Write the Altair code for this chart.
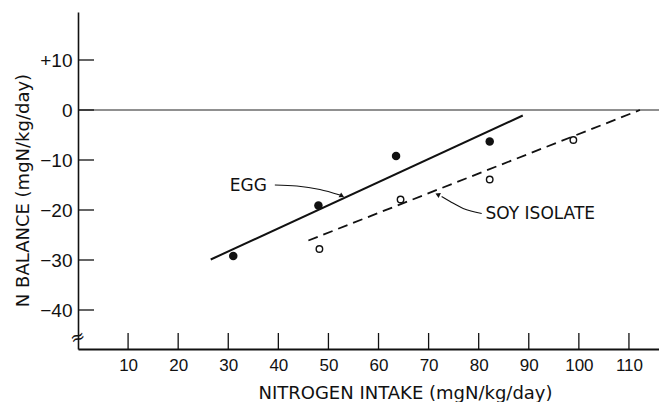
import altair as alt
import pandas as pd

# Nitrogen balance against nitrogen intake (mgN/kg/day)
egg_intake = [31.0, 48.0, 63.5, 82.2]
egg_balance = [-29.2, -19.1, -9.2, -6.3]

soy_intake = [48.2, 64.4, 82.2, 98.9]
soy_balance = [-27.8, -17.9, -13.9, -6.0]

# end points of the fitted lines
egg_fit_x = [26.5, 88.8]
egg_fit_y = [-29.9, -1.1]
soy_fit_x = [46.0, 112.2]
soy_fit_y = [-26.1, 0.0]

x_ticks = [10, 20, 30, 40, 50, 60, 70, 80, 90, 100, 110]
y_ticks = [-40, -30, -20, -10, 0, 10]

# leader curves for the series labels
egg_leader_x = [39.3, 43.7, 48.3, 52.3]
egg_leader_y = [-15.0, -15.2, -15.9, -17.0]
soy_leader_x = [72.6, 74.3, 76.9, 80.6]
soy_leader_y = [-17.3, -18.3, -19.7, -20.7]

arrow_x = [52.7, 71.8]
arrow_y = [-17.2, -16.9]
arrow_angle = [28, 205]

label_text = ["EGG", "SOY ISOLATE"]
label_x = [34.0, 92.3]
label_y = [-15.2, -20.7]

X_DOMAIN = [0, 116]
Y_DOMAIN = [-47.8, 19.6]
INK = "#111111"
W, H = 581, 337

x_axis = alt.Axis(
    values=x_ticks, ticks=False, grid=False, domainColor=INK, domainWidth=2,
    labelFont="Liberation Sans", labelFontSize=17, labelColor=INK,
    labelPadding=8, labelFlush=False,
    title="NITROGEN INTAKE (mgN/kg/day)", titleFont="DejaVu Sans",
    titleFontSize=18, titleFontWeight="normal", titleColor=INK,
    titleX=327, titleY=49, titleAlign="center", titleBaseline="alphabetic",
)
y_axis = alt.Axis(
    values=y_ticks, ticks=False, grid=False, domainColor=INK, domainWidth=1.6,
    labelFont="Liberation Sans", labelFontSize=19, labelColor=INK,
    labelPadding=6, labelFlush=False,
    labelExpr="datum.value > 0 ? '+' + datum.value : (datum.value < 0 ? '\u2212' + abs(datum.value) : '0')",
    title="N BALANCE (mgN/kg/day)", titleFont="DejaVu Sans",
    titleFontSize=18, titleFontWeight="normal", titleColor=INK,
    titleAngle=-90, titleX=-50, titleY=178, titleAlign="center",
    titleBaseline="alphabetic",
)


def xs(field):
    return alt.X(field, type="quantitative",
                 scale=alt.Scale(domain=X_DOMAIN, nice=False, zero=False),
                 axis=x_axis)


def ys(field):
    return alt.Y(field, type="quantitative",
                 scale=alt.Scale(domain=Y_DOMAIN, nice=False, zero=False),
                 axis=y_axis)


egg_df = pd.DataFrame({"x": egg_intake, "y": egg_balance})
soy_df = pd.DataFrame({"x": soy_intake, "y": soy_balance})
egg_fit = pd.DataFrame({"x": egg_fit_x, "y": egg_fit_y})
soy_fit = pd.DataFrame({"x": soy_fit_x, "y": soy_fit_y})
xt_df = pd.DataFrame({"x": x_ticks})
yt_df = pd.DataFrame({"y": y_ticks})
egg_lead = pd.DataFrame({"x": egg_leader_x, "y": egg_leader_y})
soy_lead = pd.DataFrame({"x": soy_leader_x, "y": soy_leader_y})
arrows = pd.DataFrame({"x": arrow_x, "y": arrow_y, "a": arrow_angle})
labels = pd.DataFrame({"x": label_x, "y": label_y, "t": label_text})
zero_df = pd.DataFrame({"x": [0, X_DOMAIN[1]], "y": [0, 0]})
brk_df = pd.DataFrame({"x": [0], "y": [-45.6]})

zero_line = alt.Chart(zero_df).mark_line(color="#222222", strokeWidth=1.2).encode(
    x=xs("x"), y=ys("y"))

x_tick_marks = alt.Chart(xt_df).mark_rule(color=INK, strokeWidth=1.3).encode(
    x=xs("x"), y=alt.value(H), y2=alt.value(H - 16))
y_tick_marks = alt.Chart(yt_df).mark_rule(color=INK, strokeWidth=1.3).encode(
    y=ys("y"), x=alt.value(0), x2=alt.value(16))

axis_break = alt.Chart(brk_df).mark_text(
    text="\u2248", font="DejaVu Sans", fontSize=18, color=INK, angle=340
).encode(x=xs("x"), y=ys("y"))

egg_line = alt.Chart(egg_fit).mark_line(color=INK, strokeWidth=2).encode(
    x=xs("x"), y=ys("y"))
soy_line = alt.Chart(soy_fit).mark_line(
    color=INK, strokeWidth=1.8, strokeDash=[10, 6]).encode(x=xs("x"), y=ys("y"))

egg_pts = alt.Chart(egg_df).mark_point(
    filled=True, color=INK, size=72, opacity=1).encode(x=xs("x"), y=ys("y"))
soy_pts = alt.Chart(soy_df).mark_point(
    filled=True, fill="white", stroke=INK, strokeWidth=1.4, size=42, opacity=1
).encode(x=xs("x"), y=ys("y"))

egg_leader = alt.Chart(egg_lead).mark_line(
    color=INK, strokeWidth=1.1, interpolate="monotone"
).encode(x=xs("x"), y=ys("y"), order="x:Q")
soy_leader = alt.Chart(soy_lead).mark_line(
    color=INK, strokeWidth=1.1, interpolate="monotone"
).encode(x=xs("x"), y=ys("y"), order="x:Q")

heads = alt.Chart(arrows).mark_point(
    shape="triangle-right", filled=True, color=INK, size=30, opacity=1
).encode(x=xs("x"), y=ys("y"), angle=alt.Angle("a:Q", scale=None))

texts = alt.Chart(labels).mark_text(
    font="DejaVu Sans", fontSize=17, color=INK, align="center", baseline="middle"
).encode(x=xs("x"), y=ys("y"), text="t:N")

chart = alt.layer(
    zero_line, x_tick_marks, y_tick_marks, axis_break,
    egg_line, soy_line, egg_leader, soy_leader, heads, egg_pts, soy_pts, texts,
).properties(
    width=W, height=H,
    autosize=alt.AutoSizeParams(type="none"),
    padding={"left": 78, "top": 12, "right": 0, "bottom": 53},
    background="white",
).configure_view(stroke=None)

chart.save("out.html", embed_options={"renderer": "svg", "actions": False})
